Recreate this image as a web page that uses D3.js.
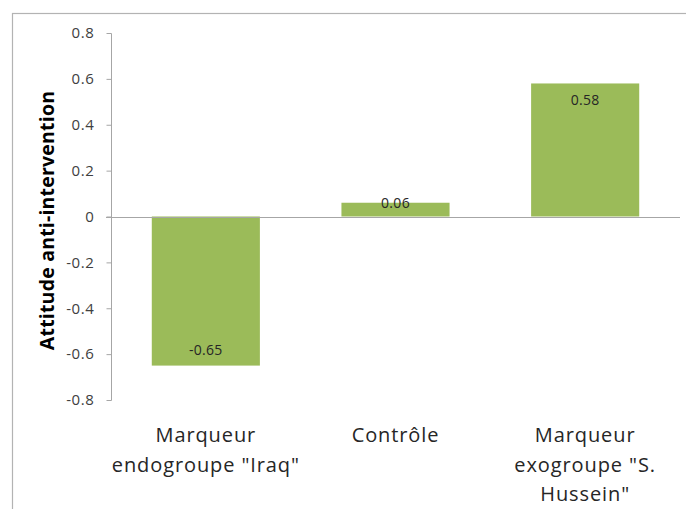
<!DOCTYPE html>
<html>
<head>
<meta charset="utf-8">
<script src="https://cdn.jsdelivr.net/npm/d3@7"></script>
<style>
  html, body { margin: 0; padding: 0; background: #fff; }
  svg { display: block; font-family: "Open Sans", "DejaVu Sans", sans-serif; }
</style>
</head>
<body>
<svg id="chart" width="686" height="509"></svg>
<script>
const categories = [
  ["Marqueur", "endogroupe \"Iraq\""],
  ["Contrôle"],
  ["Marqueur", "exogroupe \"S.", "Hussein\""]
];
const values = [-0.65, 0.06, 0.58];
const valueLabels = ["-0.65", "0.06", "0.58"];
const yTicks = [-0.8, -0.6, -0.4, -0.2, 0, 0.2, 0.4, 0.6, 0.8];
const yTickLabels = ["-0.8", "-0.6", "-0.4", "-0.2", "0", "0.2", "0.4", "0.6", "0.8"];
const yTitle = "Attitude anti-intervention";

const W = 686, H = 509;
const svg = d3.select("#chart");
const axisColor = "#a6a6a6";

// outer chart border
svg.append("rect")
  .attr("x", 12.5).attr("y", 13.5)
  .attr("width", W + 20).attr("height", H + 20)
  .attr("fill", "none").attr("stroke", "#b3b3b3").attr("stroke-width", 1.2);

const plot = { left: 111, right: 680, top: 33, bottom: 400 };

const y = d3.scaleLinear().domain([-0.8, 0.8]).range([plot.bottom, plot.top]);
const x = d3.scaleBand()
  .domain(d3.range(values.length))
  .range([plot.left, plot.right])
  .paddingInner(0.43).paddingOuter(0.215);

// y axis
const yAxis = d3.axisLeft(y)
  .tickValues(yTicks)
  .tickSize(5)
  .tickPadding(12)
  .tickFormat((d, i) => yTickLabels[i]);
const gy = svg.append("g")
  .attr("transform", `translate(${plot.left + 0.5},0)`)
  .call(yAxis);
gy.select(".domain").attr("stroke", axisColor).attr("d", `M0,${plot.top + 0.5}V${plot.bottom + 0.5}`);
gy.selectAll(".tick line").attr("stroke", axisColor);
gy.selectAll(".tick text")
  .attr("fill", "#404040")
  .style("font-size", "15px")
  .style("letter-spacing", "0.6px")
  .style("font-family", "'Open Sans', sans-serif");

// bars
svg.append("g").selectAll("rect")
  .data(values)
  .join("rect")
  .attr("x", (d, i) => x(i))
  .attr("width", x.bandwidth())
  .attr("y", d => y(Math.max(0, d)))
  .attr("height", d => Math.abs(y(d) - y(0)))
  .attr("fill", "#9bbb59");

// zero (category) axis line
svg.append("line")
  .attr("x1", plot.left - 5).attr("x2", plot.right)
  .attr("y1", Math.round(y(0)) + 0.5).attr("y2", Math.round(y(0)) + 0.5)
  .attr("stroke", axisColor).attr("stroke-width", 1);

// data labels (inside end)
svg.append("g").selectAll("text")
  .data(values)
  .join("text")
  .attr("x", (d, i) => x(i) + x.bandwidth() / 2)
  .attr("y", d => {
    const h = Math.abs(y(d) - y(0));
    if (d >= 0) return h < 30 ? y(d) : y(d) + 17;
    return y(d) - 15;
  })
  .attr("dy", "0.35em")
  .attr("text-anchor", "middle")
  .attr("fill", "#262626")
  .style("font-size", "14px")
  .style("letter-spacing", "0.3px")
  .text((d, i) => valueLabels[i]);

// category labels
const cat = svg.append("g").selectAll("text")
  .data(categories)
  .join("text")
  .attr("x", (d, i) => x(i) + x.bandwidth() / 2)
  .attr("y", 442)
  .attr("text-anchor", "middle")
  .attr("fill", "#262626")
  .style("font-size", "20px")
  .style("letter-spacing", "0.9px");
cat.selectAll("tspan")
  .data(d => d)
  .join("tspan")
  .attr("x", function() { return d3.select(this.parentNode).attr("x"); })
  .attr("dy", (d, i) => i === 0 ? 0 : 29.5)
  .text(d => d);

// y axis title
svg.append("text")
  .attr("transform", `translate(54, ${(plot.top + plot.bottom) / 2 + 4}) rotate(-90)`)
  .attr("text-anchor", "middle")
  .attr("fill", "#000")
  .style("font-size", "19.5px")
  .style("font-weight", "bold")
  .style("letter-spacing", "0.2px")
  .text(yTitle);
</script>
</body>
</html>
